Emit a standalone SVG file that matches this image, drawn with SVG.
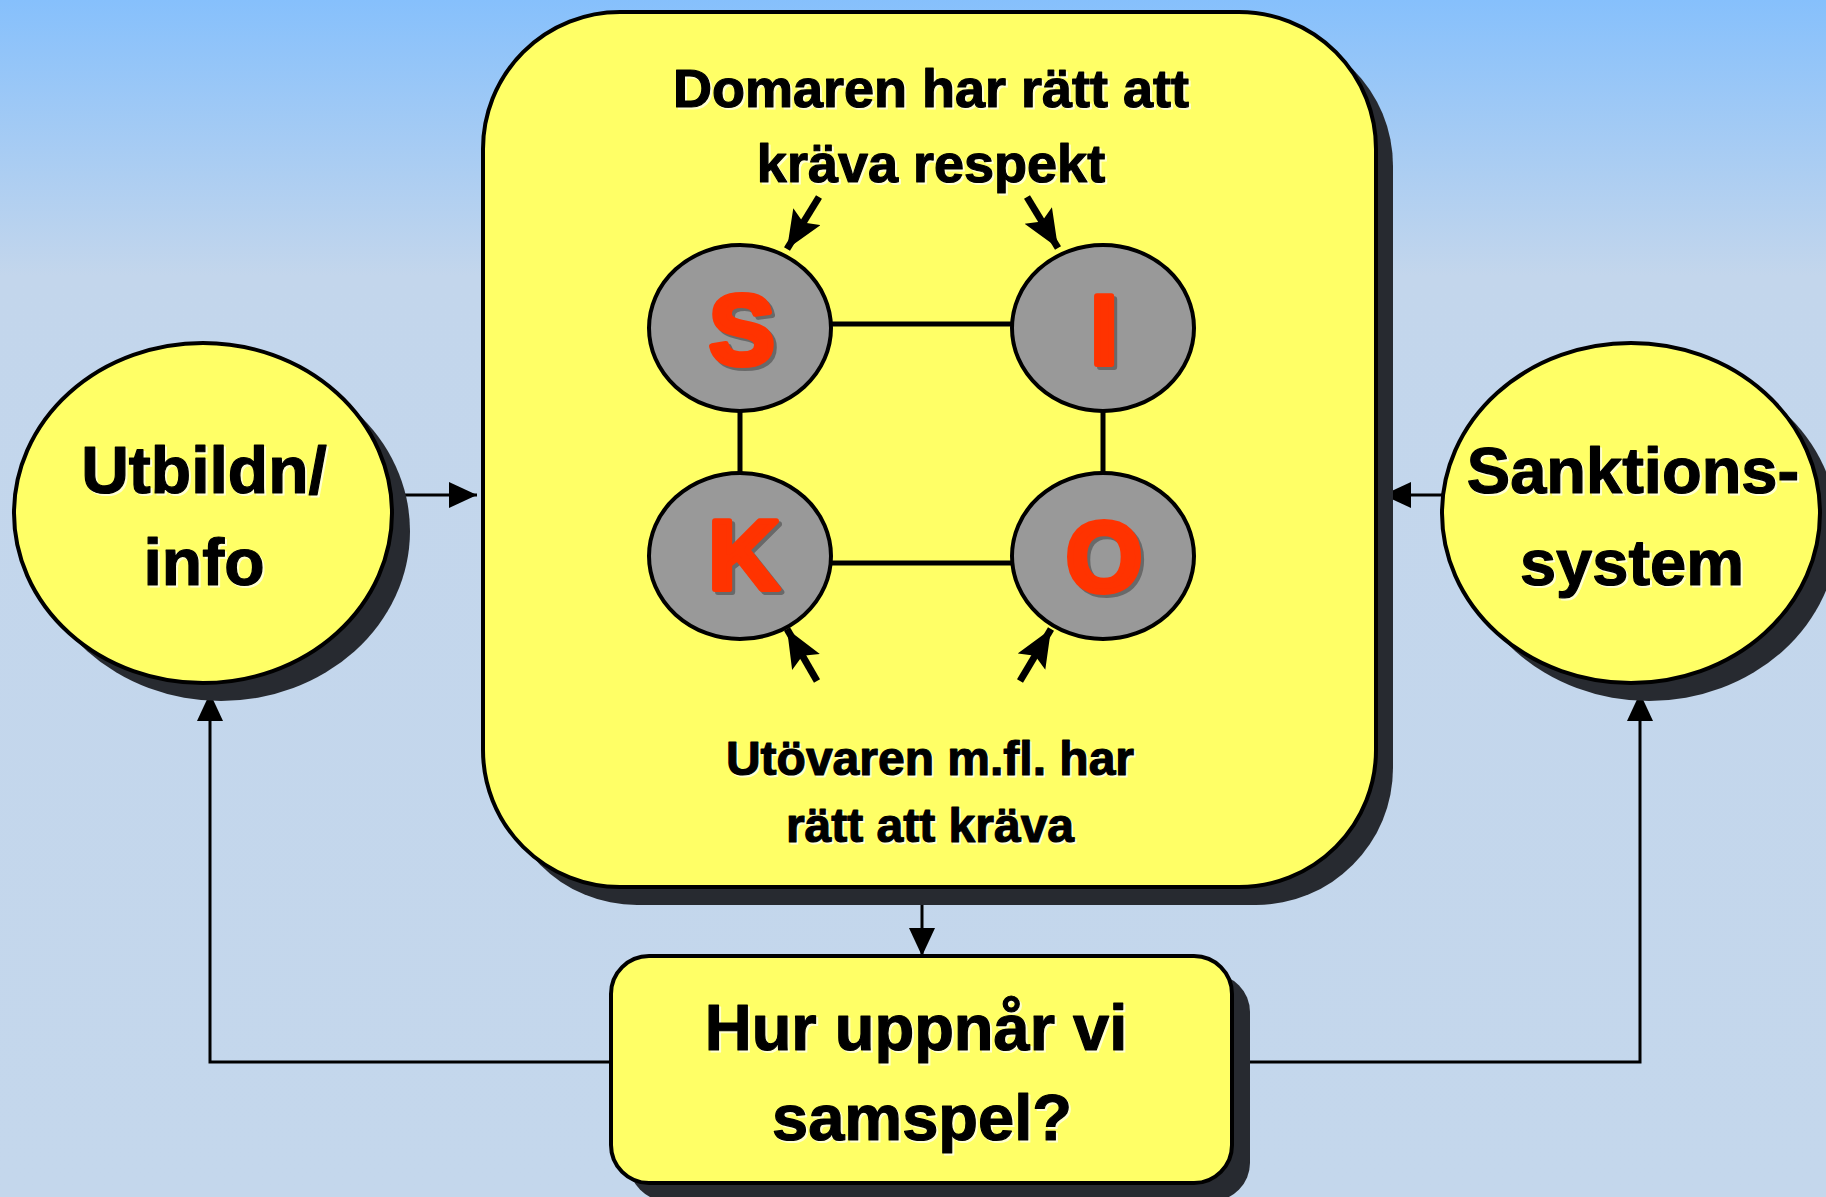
<svg xmlns="http://www.w3.org/2000/svg" width="1826" height="1197" viewBox="0 0 1826 1197">
<defs>
<linearGradient id="bg" x1="0" y1="0" x2="0" y2="1197" gradientUnits="userSpaceOnUse">
<stop offset="0" stop-color="#86c0fc"/>
<stop offset="0.23" stop-color="#c3d6ec"/>
<stop offset="1" stop-color="#c4d7ec"/>
</linearGradient>
<marker id="ah" markerUnits="userSpaceOnUse" markerWidth="30" markerHeight="28" refX="28" refY="13" orient="auto">
<path d="M0,0 L28,13 L0,26 Z" fill="#000"/>
</marker>
<marker id="ahs" markerUnits="userSpaceOnUse" markerWidth="42" markerHeight="34" refX="38" refY="16" orient="auto">
<path d="M0,0 L38,16 L0,32 L7,16 Z" fill="#000"/>
</marker>
</defs>
<style>
.shadow{fill:#272a30}
.node{fill:#ffff66;stroke:#000;stroke-width:4}
.circ{fill:#999999;stroke:#000;stroke-width:4}
.t{font-family:"Liberation Sans",Arial,sans-serif;font-weight:bold;text-anchor:middle;fill:#000;stroke:#000;stroke-width:1.2;stroke-linejoin:round}
.t .halo{fill:#ffffd0;stroke:#ffffd0}
.big{font-family:"Liberation Sans",Arial,sans-serif;font-weight:900;text-anchor:middle;font-size:98px;fill:#ff3300;stroke:#ff3300;stroke-width:6;stroke-linejoin:round}
.bigsh{font-family:"Liberation Sans",Arial,sans-serif;font-weight:900;text-anchor:middle;font-size:98px;fill:#555;stroke:#555;stroke-width:6;stroke-linejoin:round;opacity:0.7}
.conn{stroke:#000;stroke-width:3;fill:none}
.link{stroke:#000;stroke-width:5;fill:none}
.sarr{stroke:#000;stroke-width:7;fill:none}
</style>
<rect x="0" y="0" width="1826" height="1197" fill="url(#bg)"/>

<g id="connectors">
<line class="conn" x1="392" y1="495" x2="477" y2="495" marker-end="url(#ah)"/>
<line class="conn" x1="1443" y1="495" x2="1383" y2="495" marker-end="url(#ah)"/>
<line class="conn" x1="922" y1="887" x2="922" y2="956" marker-end="url(#ah)"/>
<polyline class="conn" points="611,1062 210,1062 210,693" marker-end="url(#ah)"/>
<polyline class="conn" points="1232,1062 1640,1062 1640,693" marker-end="url(#ah)"/>
</g>

<g id="utbildn">
<ellipse class="shadow" cx="221" cy="531" rx="189" ry="170"/>
<ellipse class="node" cx="203" cy="513" rx="189" ry="170"/>
<g class="t" font-size="66">
<text class="halo" x="206" y="495">Utbildn/</text>
<text class="halo" x="206" y="587">info</text>
<text x="204" y="493">Utbildn/</text>
<text x="204" y="585">info</text>
</g>
</g>

<g id="sanktion">
<ellipse class="shadow" cx="1649" cy="531" rx="189" ry="170"/>
<ellipse class="node" cx="1631" cy="513" rx="189" ry="170"/>
<g class="t" font-size="65">
<text class="halo" x="1635" y="495">Sanktions-</text>
<text class="halo" x="1634" y="587">system</text>
<text x="1633" y="493">Sanktions-</text>
<text x="1632" y="585">system</text>
</g>
</g>

<g id="main">
<rect class="shadow" x="500" y="29" width="893" height="876" rx="137" ry="137"/>
<rect class="node" x="483" y="12" width="893" height="875" rx="137" ry="137"/>
<g class="t" font-size="54">
<text class="halo" x="933" y="109">Domaren har rätt att</text>
<text class="halo" x="933" y="184">kräva respekt</text>
<text x="931" y="107">Domaren har rätt att</text>
<text x="931" y="182">kräva respekt</text>
</g>
<g class="t" font-size="48">
<text class="halo" x="932" y="777">Utövaren m.fl. har</text>
<text class="halo" x="932" y="844">rätt att kräva</text>
<text x="930" y="775">Utövaren m.fl. har</text>
<text x="930" y="842">rätt att kräva</text>
</g>
<g id="siko-links">
<line class="link" x1="831" y1="324" x2="1012" y2="324"/>
<line class="link" x1="831" y1="563" x2="1012" y2="563"/>
<line class="link" x1="740" y1="412" x2="740" y2="473"/>
<line class="link" x1="1103" y1="412" x2="1103" y2="473"/>
</g>
<g id="small-arrows">
<line class="sarr" x1="819" y1="197" x2="787" y2="249" marker-end="url(#ahs)"/>
<line class="sarr" x1="1027" y1="197" x2="1058" y2="248" marker-end="url(#ahs)"/>
<line class="sarr" x1="817" y1="681" x2="787" y2="629" marker-end="url(#ahs)"/>
<line class="sarr" x1="1020" y1="681" x2="1051" y2="629" marker-end="url(#ahs)"/>
</g>
<g id="node-S">
<ellipse class="circ" cx="740" cy="328" rx="91" ry="83"/>
<text class="bigsh" x="745" y="367">S</text>
<text class="big" x="742" y="364">S</text>
</g>
<g id="node-I">
<ellipse class="circ" cx="1103" cy="328" rx="91" ry="83"/>
<text class="bigsh" x="1107" y="367">I</text>
<text class="big" x="1104" y="364">I</text>
</g>
<g id="node-K">
<ellipse class="circ" cx="740" cy="556" rx="91" ry="83"/>
<text class="bigsh" x="747" y="592">K</text>
<text class="big" x="744" y="589">K</text>
</g>
<g id="node-O">
<ellipse class="circ" cx="1103" cy="556" rx="91" ry="83"/>
<text class="bigsh" x="1107" y="594">O</text>
<text class="big" x="1104" y="591">O</text>
</g>
</g>

<g id="samspel">
<rect class="shadow" x="629" y="974" width="621" height="227" rx="38" ry="38"/>
<rect class="node" x="611" y="956" width="621" height="227" rx="38" ry="38"/>
<g class="t" font-size="65">
<text class="halo" x="918" y="1052">Hur uppnår vi</text>
<text class="halo" x="924" y="1142">samspel?</text>
<text x="916" y="1050">Hur uppnår vi</text>
<text x="922" y="1140">samspel?</text>
</g>
</g>
</svg>
